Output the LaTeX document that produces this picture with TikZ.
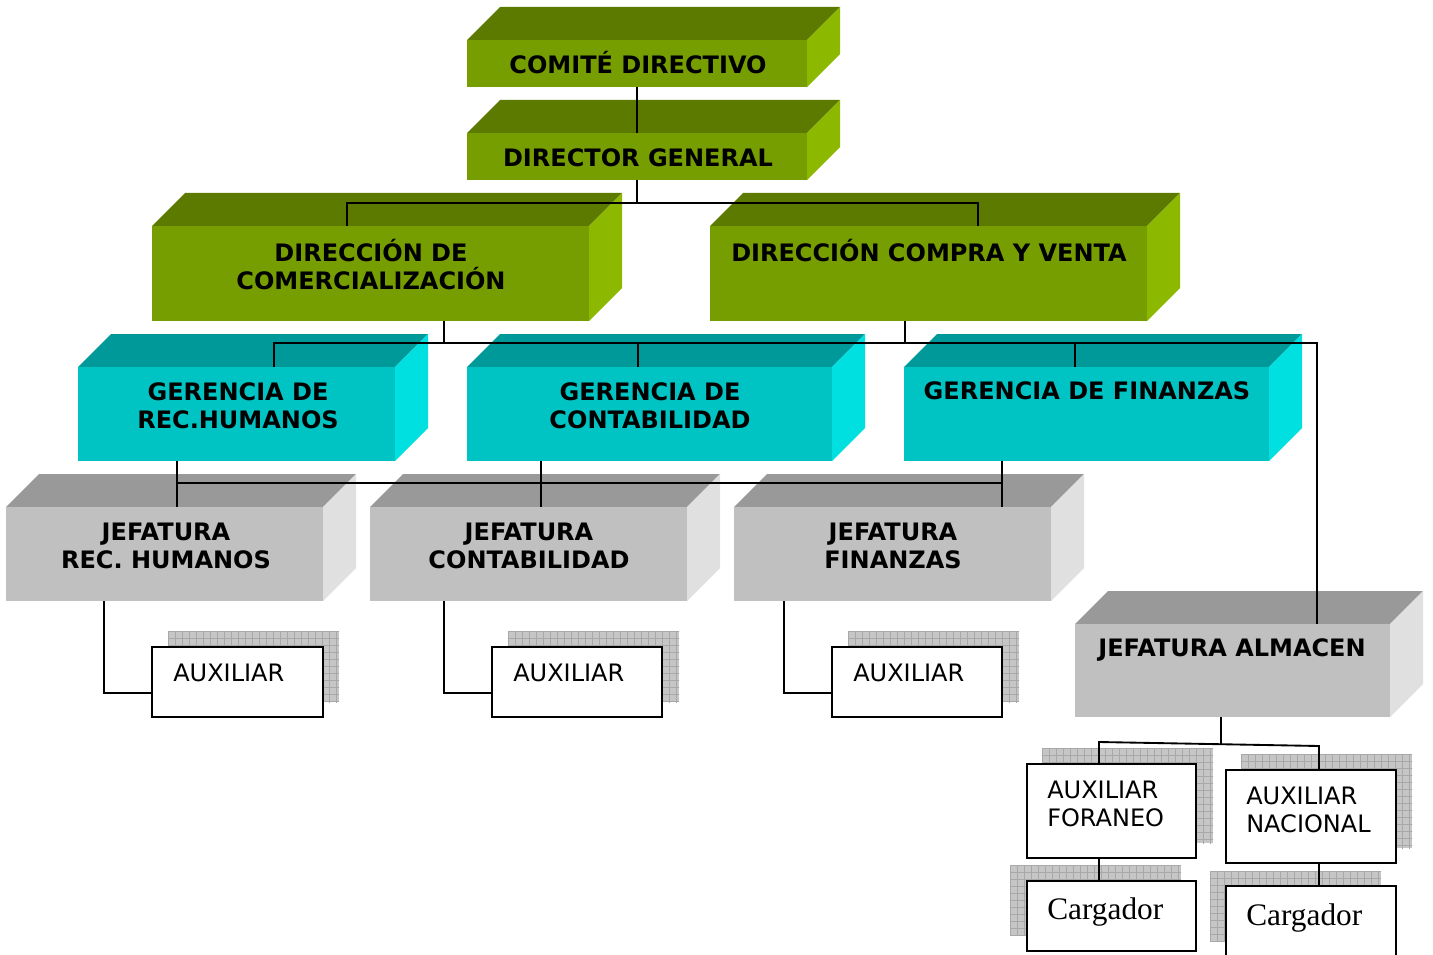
\documentclass[tikz,border=0pt]{standalone}
\usepackage{fontspec}
\setmainfont{DejaVu Sans}
\newfontfamily\tmfont{Liberation Serif}
\usetikzlibrary{fit}
\definecolor{gtop}{HTML}{5C7A00}
\definecolor{gfront}{HTML}{779E00}
\definecolor{gside}{HTML}{8CB800}
\definecolor{ttop}{HTML}{009999}
\definecolor{tfront}{HTML}{00C4C4}
\definecolor{tside}{HTML}{00E0E0}
\definecolor{ytop}{HTML}{999999}
\definecolor{yfront}{HTML}{C0C0C0}
\definecolor{yside}{HTML}{E0E0E0}
\definecolor{shfill}{HTML}{C6C6C6}
\definecolor{shline}{HTML}{A8A8A8}
\tikzset{
  boxtext/.style={font=\fontsize{18}{21}\selectfont\bfseries, align=center, inner sep=0pt},
  auxtext/.style={font=\fontsize{18}{21}\selectfont, align=left, inner sep=0pt, anchor=west},
  cgtext/.style={font=\tmfont\fontsize{23.5}{28}\selectfont, inner sep=0pt, anchor=west},
  conn/.style={line width=1.4pt, black},
  whitebox/.style={draw=black, line width=1.4pt, fill=white, inner sep=0pt},
}
% 3D box: name, x1, y1, x2, y2, colour prefix (g/t/y)
\newcommand\tdbox[6]{%
  \fill[#6top] (#2,#3) -- ({#2+33},{#3-33}) -- ({#4+33},{#3-33}) -- (#4,#3) -- cycle;
  \fill[#6side] (#4,#3) -- ({#4+33},{#3-33}) -- ({#4+33},{#5-33}) -- (#4,#5) -- cycle;
  \node[fit={(#2,#3)(#4,#5)}, inner sep=0pt, fill=#6front] (#1) {};
}
% hatched shadow: x1,y1,x2,y2
\newcommand\hshadow[4]{%
  \begin{scope}
    \clip (#1,#2) rectangle (#3,#4);
    \fill[shfill] (#1,#2) rectangle (#3,#4);
    \foreach \i in {0,...,28} {
      \draw[shline, line width=0.6pt] ({#1+\i*7},#2) -- ({#1+\i*7},{#2+120});
      \draw[shline, line width=0.6pt] (#1,{#2+\i*7}) -- ({#1+220},{#2+\i*7});
    }
  \end{scope}
}
\newcommand\wbox[5]{%
  \node[whitebox, fit={(#2,#3)(#4,#5)}] (#1) {};
}
\begin{document}
\begin{tikzpicture}[x=0.75pt, y=-0.75pt]
\clip (0,0) rectangle (1433,955);
\fill[white] (0,0) rectangle (1433,955);

% ---- 3D boxes
\tdbox{cd}{467}{40}{807}{87}{g}
\tdbox{dg}{467}{133}{807}{180}{g}
\tdbox{dcom}{152}{226}{589}{321}{g}
\tdbox{dcv}{710}{226}{1147}{321}{g}
\tdbox{grh}{78}{367}{395}{461}{t}
\tdbox{gco}{467}{367}{832}{461}{t}
\tdbox{gfi}{904}{367}{1269}{461}{t}
\tdbox{jrh}{6}{507}{323}{601}{y}
\tdbox{jco}{370}{507}{687}{601}{y}
\tdbox{jfi}{734}{507}{1051}{601}{y}
\tdbox{ja}{1075}{624}{1390}{717}{y}

% ---- texts of 3D boxes
\node[boxtext] (tcd) at (638,63) {COMITÉ DIRECTIVO};
\node[boxtext] (tdg) at (638,158) {DIRECTOR GENERAL};
\node[boxtext] (tdcom) at (371,265) {DIRECCIÓN DE\\COMERCIALIZACIÓN};
\node[boxtext] (tdcv) at (929,251) {DIRECCIÓN COMPRA Y VENTA};
\node[boxtext] (tgrh) at (238,406) {GERENCIA DE\\REC.HUMANOS};
\node[boxtext] (tgco) at (650,406) {GERENCIA DE\\CONTABILIDAD};
\node[boxtext] (tgfi) at (1087,391) {GERENCIA DE FINANZAS};
\node[boxtext] (tjrh) at (166,546) {JEFATURA\\REC. HUMANOS};
\node[boxtext] (tjco) at (529,546) {JEFATURA\\CONTABILIDAD};
\node[boxtext] (tjfi) at (893,546) {JEFATURA\\FINANZAS};
\node[boxtext] (tja) at (1232,650) {JEFATURA ALMACEN};

% ---- white boxes with hatched shadows
\hshadow{168}{631}{339}{702}
\hshadow{508}{631}{679}{702}
\hshadow{848}{631}{1019}{702}
\hshadow{1042}{748}{1213}{843}
\hshadow{1241}{754}{1412}{848}
\hshadow{1010}{865}{1181}{935}
\hshadow{1210}{871}{1381}{941}
\wbox{a1}{152}{647}{323}{717}
\wbox{a2}{492}{647}{662}{717}
\wbox{a3}{832}{647}{1002}{717}
\wbox{fo}{1027}{764}{1196}{858}
\wbox{na}{1226}{770}{1396}{863}
\wbox{cg1}{1027}{881}{1196}{951}
\wbox{cg2}{1226}{886}{1396}{985}

\node[auxtext] (ta1) at (173,673) {AUXILIAR};
\node[auxtext] (ta2) at (513,673) {AUXILIAR};
\node[auxtext] (ta3) at (853,673) {AUXILIAR};
\node[auxtext] (tfo) at (1047,804) {AUXILIAR\\FORANEO};
\node[auxtext] (tna) at (1246,810) {AUXILIAR\\NACIONAL};
\node[cgtext] (tcg1) at (1047,912) {Cargador};
\node[cgtext] (tcg2) at (1246,918) {Cargador};

% ---- junction coordinates
\path (dg.south) ++(0,23) coordinate (j1);
\coordinate (dcomIn) at (347,226);
\coordinate (dcvIn) at (978,226);
\coordinate (dcomOut) at (444,321);
\coordinate (dcvOut) at (905,321);
\coordinate (j2) at (444,343);
\coordinate (j2b) at (905,343);
\coordinate (grhIn) at (274,367);
\coordinate (gcoIn) at (638,367);
\coordinate (gfiIn) at (1075,367);
\coordinate (jaIn) at (1317,624);
\coordinate (grhOut) at (177,461);
\coordinate (gcoOut) at (541,461);
\coordinate (gfiOut) at (1002,461);
\coordinate (jrhIn) at (177,507);
\coordinate (jcoIn) at (541,507);
\coordinate (jfiIn) at (1002,507);
\coordinate (j4l) at (177,483);
\coordinate (j4r) at (1002,483);
\coordinate (jrhOut) at (104,601);
\coordinate (jcoOut) at (444,601);
\coordinate (jfiOut) at (784,601);
\coordinate (a1In) at (152,693);
\coordinate (a2In) at (492,693);
\coordinate (a3In) at (832,693);
\coordinate (jaOut) at (1221,717);
\coordinate (j3) at (1221,744);
\coordinate (j3l) at (1099,742);
\coordinate (j3r) at (1319,746);
\coordinate (foIn) at (1099,764);
\coordinate (naIn) at (1319,770);
\coordinate (foOut) at (1099,858);
\coordinate (naOut) at (1319,863);
\coordinate (cg1In) at (1099,881);
\coordinate (cg2In) at (1319,886);

% ---- connectors
\draw[conn] (cd.south) -- (dg.north);
\draw[conn] (dg.south) -- (j1);
\draw[conn] (dcomIn) |- (j1) -| (dcvIn);
\draw[conn] (dcomOut) -- (j2);
\draw[conn] (dcvOut) -- (j2b);
\draw[conn] (grhIn) |- (j2) -- (j2b) -| (jaIn);
\draw[conn] (gcoIn) -- (gcoIn |- j2);
\draw[conn] (gfiIn) -- (gfiIn |- j2);
\draw[conn] (grhOut) -- (jrhIn);
\draw[conn] (gcoOut) -- (jcoIn);
\draw[conn] (gfiOut) -- (jfiIn);
\draw[conn] (j4l) -- (j4r);
\draw[conn] (jrhOut) |- (a1In);
\draw[conn] (jcoOut) |- (a2In);
\draw[conn] (jfiOut) |- (a3In);
\draw[conn] (jaOut) -- (j3);
\draw[conn] (foIn) -- (j3l) -- (j3r) -- (naIn);
\draw[conn] (foOut) -- (cg1In);
\draw[conn] (naOut) -- (cg2In);
\end{tikzpicture}
\end{document}
